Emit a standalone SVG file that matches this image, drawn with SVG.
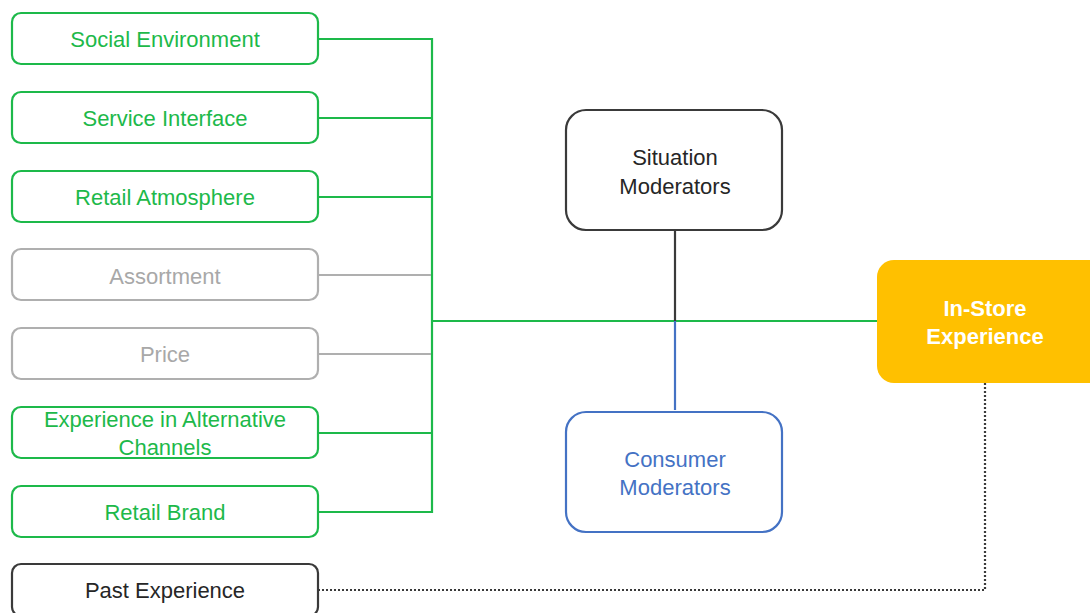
<svg xmlns="http://www.w3.org/2000/svg" width="1090" height="613" viewBox="0 0 1090 613">
  <style>
    text { font-family: "Liberation Sans", Arial, sans-serif; font-size: 22px; text-anchor: middle; dominant-baseline: central; }
    .box { fill: #ffffff; stroke-width: 2.2; }
    .green { stroke: #1DB94A; }
    .greenT { fill: #1DB94A; }
    .gray { stroke: #AFAFAF; }
    .grayT { fill: #A8A8A8; }
    .dark { stroke: #3A3A3A; }
    .darkT { fill: #262626; }
    .blue { stroke: #4472C4; }
    .blueT { fill: #4472C4; }
    .ln { fill: none; stroke-width: 2.2; }
  </style>

  <!-- connectors -->
  <g id="connectors">
    <path class="ln green" d="M318 39 H432 V512 H318 M318 118 H432 M318 197 H432 M318 433 H432 M432 321 H878"/>
    <path class="ln gray" d="M318 275 H431 M318 354 H431"/>
    <path class="ln dark" d="M675 230 V321"/>
    <path class="ln blue" d="M675 321 V410"/>
    <path class="ln" stroke="#3A3A3A" stroke-dasharray="2 2" d="M318 590 H985 V383"/>
  </g>

  <g id="social-environment">
    <rect class="box green" x="12" y="13" width="306" height="51" rx="9"/>
    <text class="greenT" x="165" y="39">Social Environment</text>
  </g>
  <g id="service-interface">
    <rect class="box green" x="12" y="92" width="306" height="51" rx="9"/>
    <text class="greenT" x="165" y="118">Service Interface</text>
  </g>
  <g id="retail-atmosphere">
    <rect class="box green" x="12" y="171" width="306" height="51" rx="9"/>
    <text class="greenT" x="165" y="197">Retail Atmosphere</text>
  </g>
  <g id="assortment">
    <rect class="box gray" x="12" y="249" width="306" height="51" rx="9"/>
    <text class="grayT" x="165" y="276">Assortment</text>
  </g>
  <g id="price">
    <rect class="box gray" x="12" y="328" width="306" height="51" rx="9"/>
    <text class="grayT" x="165" y="354">Price</text>
  </g>
  <g id="alternative-channels">
    <rect class="box green" x="12" y="407" width="306" height="51" rx="9"/>
    <text class="greenT" x="165" y="419">Experience in Alternative</text>
    <text class="greenT" x="165" y="447">Channels</text>
  </g>
  <g id="retail-brand">
    <rect class="box green" x="12" y="486" width="306" height="51" rx="9"/>
    <text class="greenT" x="165" y="512">Retail Brand</text>
  </g>
  <g id="past-experience">
    <rect class="box dark" x="12" y="564" width="306" height="52" rx="9"/>
    <text class="darkT" x="165" y="590">Past Experience</text>
  </g>

  <g id="situation-moderators">
    <rect class="box dark" x="566" y="110" width="216" height="120" rx="20"/>
    <text class="darkT" x="675" y="157">Situation</text>
    <text class="darkT" x="675" y="186">Moderators</text>
  </g>
  <g id="consumer-moderators">
    <rect class="box blue" x="566" y="412" width="216" height="120" rx="20"/>
    <text class="blueT" x="675" y="459">Consumer</text>
    <text class="blueT" x="675" y="487">Moderators</text>
  </g>

  <g id="in-store-experience">
    <rect x="877" y="260" width="230" height="123" rx="17" fill="#FFC000"/>
    <text x="985" y="308" fill="#ffffff" font-weight="bold" font-size="19">In-Store</text>
    <text x="985" y="336" fill="#ffffff" font-weight="bold" font-size="19">Experience</text>
  </g>
</svg>
